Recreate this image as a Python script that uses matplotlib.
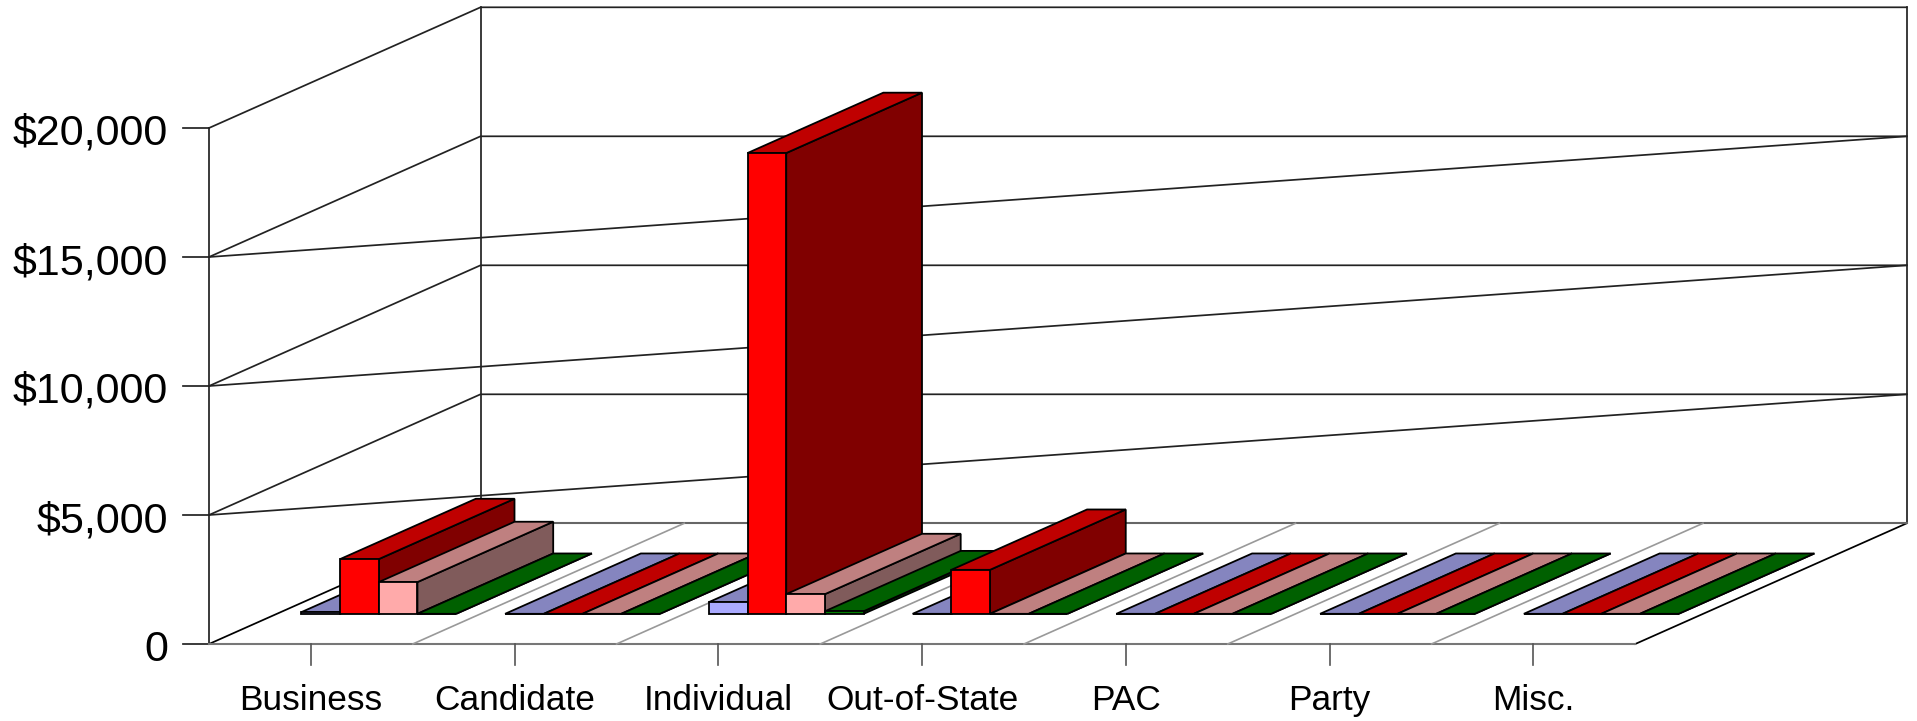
import matplotlib
matplotlib.use('Agg')
import matplotlib.pyplot as plt
from matplotlib.patches import Polygon

plt.rcParams['font.family'] = ['Liberation Sans', 'DejaVu Sans']

categories = ['Business', 'Candidate', 'Individual', 'Out-of-State', 'PAC', 'Party', 'Misc.']
y_ticks = [0, 5000, 10000, 15000, 20000]
y_labels = ['0', '$5,000', '$10,000', '$15,000', '$20,000']

# four series per category
series_blue = [65, 0, 453, 0, 0, 0, 0]
series_red = [2120, 0, 17860, 1705, 0, 0, 0]
series_pink = [1230, 0, 763, 0, 0, 0, 0]
series_green = [0, 0, 100, 0, 0, 0, 0]

all_series = [series_blue, series_red, series_pink, series_green]
front_cols = ['#AAAAFF', '#FF0000', '#FFAAAA', '#008000']
top_cols = ['#8585BF', '#BF0000', '#BF8080', '#006000']
side_cols = ['#555580', '#800000', '#805B5B', '#004000']

# layout of the oblique box, in pixels
x0 = 209.0
y0 = 644.0
cat_w = 203.75
depth_x = 271.5
depth_y = 120.7
px_per_val = 129.0 / 5000
y_top = 20000
bar_w = 38.7
gap = (cat_w - 4 * bar_w) / 2
n_cat = len(categories)
x_end = x0 + n_cat * cat_w


def proj(c, val, d):
    # c = position along categories (pixels from left), d = depth 0..1
    return (x0 + c + d * depth_x, y0 - val * px_per_val - d * depth_y)


def draw_bar(ax, c, val, i):
    left = c
    right = c + bar_w
    d1, d2 = 0.25, 0.75
    front = [proj(left, 0, d1), proj(right, 0, d1), proj(right, val, d1), proj(left, val, d1)]
    top = [proj(left, val, d1), proj(right, val, d1), proj(right, val, d2), proj(left, val, d2)]
    side = [proj(right, 0, d1), proj(right, 0, d2), proj(right, val, d2), proj(right, val, d1)]
    for pts, col in ((side, side_cols[i]), (top, top_cols[i]), (front, front_cols[i])):
        ax.add_patch(Polygon(pts, closed=True, fc=col, ec='black', lw=1.3, zorder=5))


fig = plt.figure(figsize=(19.17, 7.21), dpi=100)
ax = fig.add_axes([0, 0, 1, 1])
ax.set_xlim(0, 1917)
ax.set_ylim(721, 0)
ax.axis('off')

line_k = dict(color='#222222', lw=1.25, zorder=2)
gray_k = dict(color='#999999', lw=1.2, zorder=2)

# walls
for v in y_ticks[1:]:
    a = proj(0, v, 0)
    b = proj(0, v, 1)
    c = proj(x_end - x0, v, 1)
    ax.plot([a[0] - 26, a[0]], [a[1], a[1]], **line_k)
    ax.plot([a[0], b[0], c[0]], [a[1], b[1], c[1]], **line_k)
    if v < y_top:
        ax.plot([a[0], c[0]], [a[1], c[1]], **line_k)
a = proj(0, 0, 0)
b = proj(0, y_top, 0)
ax.plot([a[0] - 26, a[0]], [a[1], a[1]], **line_k)
ax.plot([a[0], b[0]], [a[1], b[1]], **line_k)
a = proj(0, 0, 1)
b = proj(0, y_top, 1)
ax.plot([a[0], b[0]], [a[1], b[1]], **line_k)
# right edge of the back wall
a = proj(n_cat * cat_w, 0, 1)
b = proj(n_cat * cat_w, y_top, 1)
ax.plot([a[0], b[0]], [a[1], b[1]], **line_k)

# floor
ax.plot(*zip(proj(0, 0, 0), proj(0, 0, 1)), color='black', lw=1.25, zorder=2)
ax.plot(*zip(proj(n_cat * cat_w, 0, 0), proj(n_cat * cat_w, 0, 1)), color='black', lw=1.25, zorder=2)
ax.plot(*zip(proj(0, 0, 0), proj(n_cat * cat_w, 0, 0)), color='#777777', lw=1.5, zorder=2)
ax.plot(*zip(proj(0, 0, 1), proj(n_cat * cat_w, 0, 1)), color='#666666', lw=1.5, zorder=2)
for k in range(1, n_cat):
    ax.plot(*zip(proj(k * cat_w, 0, 0), proj(k * cat_w, 0, 1)), **gray_k)

# bars, left to right so later ones cover earlier side faces
for k in range(n_cat):
    for i, vals in enumerate(all_series):
        draw_bar(ax, k * cat_w + gap + i * bar_w + 0, vals[k], i)

# labels
for v, lab in zip(y_ticks, y_labels):
    ax.text(168, y0 - v * px_per_val + 17, lab, ha='right', va='baseline', fontsize=31, color='black')
for k, lab in enumerate(categories):
    xc = x0 + (k + 0.5) * cat_w
    ax.plot([xc, xc], [y0, y0 + 21], color='#555555', lw=1.2, zorder=2)
    ax.text(xc, 710, lab, ha='center', va='baseline', fontsize=25.4, color='black')

fig.savefig('out.png', dpi=100)
